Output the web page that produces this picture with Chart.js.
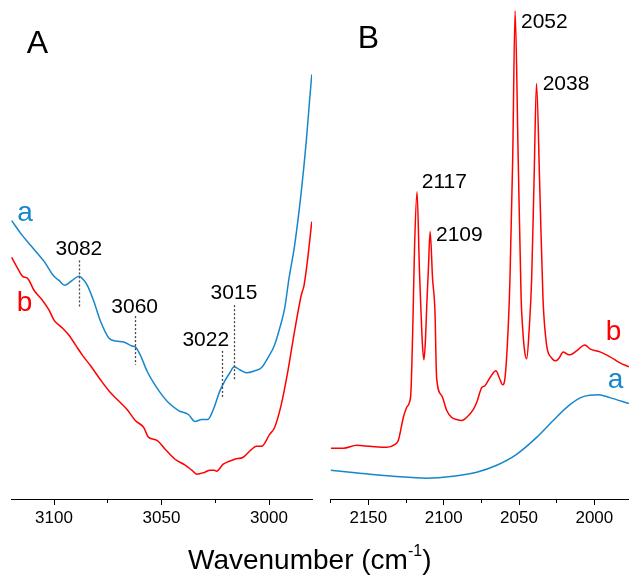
<!DOCTYPE html>
<html>
<head>
<meta charset="utf-8">
<script src="https://cdn.jsdelivr.net/npm/chart.js@4.4.0/dist/chart.umd.min.js"></script>
<style>
    html, body { margin: 0; padding: 0; background: #fff; }
    #wrap { position: relative; width: 629px; height: 577px; overflow: hidden; font-family: "Liberation Sans", Arial, sans-serif; }
    #leftBox { position: absolute; left: 0; top: 0; }
    #rightBox { position: absolute; left: 320px; top: 0; }
    #xTitle { position: absolute; left: 188px; top: 546px; font-size: 28px; line-height: 27px; white-space: nowrap; color: #000; }
    #xTitle sup { font-size: 16px; position: relative; top: -3px; vertical-align: super; line-height: 0; }
</style>
</head>
<body>
<div id="wrap">
    <div id="leftBox"><canvas id="leftChart" width="320" height="577"></canvas></div>
    <div id="rightBox"><canvas id="rightChart" width="309" height="577"></canvas></div>
    <div id="xTitle">Wavenumber (cm<sup>-1</sup>)</div>
</div>
<script>
// Panel A: C-H region (wavenumber, arbitrary absorbance)
const blueLeftWn = [3119.7, 3115.4, 3110.8, 3104.6, 3100.0, 3097.7, 3095.0, 3091.5, 3088.4, 3086.1,
    3084.5, 3081.5, 3078.4, 3074.5, 3071.4, 3067.6, 3063.7, 3062.2, 3059.9, 3056.8,
    3053.7, 3050.6, 3046.8, 3042.1, 3037.5, 3034.4, 3031.3, 3028.5, 3025.9, 3022.8,
    3020.5, 3018.2, 3016.2, 3013.6, 3010.5, 3006.6, 3003.5, 3000.5, 2997.4, 2995.0,
    2992.7, 2990.7, 2988.1, 2985.0, 2982.7, 2981.2, 2980.1];
const blueLeftAbs = [2.80, 2.67, 2.55, 2.39, 2.24, 2.20, 2.15, 2.20, 2.24, 2.20,
    2.15, 1.99, 1.79, 1.62, 1.59, 1.58, 1.54, 1.53, 1.45, 1.29,
    1.17, 1.07, 0.97, 0.89, 0.85, 0.78, 0.80, 0.80, 0.90, 1.09,
    1.19, 1.27, 1.33, 1.30, 1.27, 1.29, 1.32, 1.42, 1.55, 1.72,
    1.92, 2.22, 2.55, 3.09, 3.59, 3.99, 4.27];

const redLeftWn = [3119.7, 3116.9, 3114.6, 3112.3, 3109.3, 3105.4, 3102.3, 3100.0, 3096.1, 3093.1,
    3090.0, 3086.9, 3083.0, 3078.4, 3074.5, 3070.6, 3066.0, 3062.2, 3058.3, 3056.0,
    3052.1, 3048.3, 3043.7, 3039.0, 3035.9, 3033.6, 3029.8, 3027.5, 3025.5, 3024.4,
    3021.3, 3015.9, 3012.0, 3008.1, 3005.8, 3003.5, 2999.7, 2997.4, 2994.3, 2991.2,
    2988.1, 2985.0, 2983.7, 2982.1, 2980.1];
const redLeftAbs = [2.43, 2.32, 2.24, 2.22, 2.10, 2.00, 1.90, 1.80, 1.72, 1.65,
    1.55, 1.45, 1.34, 1.20, 1.09, 1.00, 0.90, 0.79, 0.72, 0.62,
    0.59, 0.50, 0.40, 0.34, 0.29, 0.25, 0.27, 0.29, 0.29, 0.28,
    0.35, 0.40, 0.42, 0.50, 0.53, 0.53, 0.65, 0.72, 0.95, 1.29,
    1.69, 2.05, 2.15, 2.40, 2.79];

// Panel B: C≡N / CO region
const redRightWn = [2175.0, 2166.6, 2157.7, 2148.9, 2137.8, 2132.3, 2130.1, 2126.8, 2124.6, 2122.8,
    2121.7, 2120.4, 2119.4, 2117.7, 2116.1, 2115.1, 2114.1, 2113.1, 2112.1, 2111.1,
    2110.2, 2109.0, 2107.4, 2105.8, 2104.7, 2101.3, 2098.0, 2094.7, 2091.4, 2088.1,
    2084.8, 2080.4, 2078.1, 2074.8, 2072.6, 2069.3, 2065.3, 2063.1, 2060.9, 2059.3,
    2057.2, 2056.0, 2054.2, 2052.6, 2050.6, 2048.6, 2047.6, 2046.3, 2044.9, 2043.2,
    2041.6, 2040.0, 2038.4, 2036.2, 2034.1, 2031.7, 2028.4, 2025.5, 2023.3, 2020.7,
    2018.4, 2016.2, 2011.8, 2006.3, 2002.9, 1996.3, 1989.6, 1983.0, 1977.1];
const redRightAbs = [0.51, 0.51, 0.54, 0.53, 0.52, 0.55, 0.59, 0.82, 0.92, 0.97,
    1.09, 1.80, 2.50, 3.09, 2.30, 1.90, 1.55, 1.40, 1.60, 2.00,
    2.30, 2.69, 2.22, 1.89, 1.22, 1.04, 0.89, 0.82, 0.80, 0.79,
    0.82, 0.90, 0.97, 1.12, 1.14, 1.22, 1.29, 1.22, 1.15, 1.22,
    1.72, 2.22, 3.42, 4.91, 3.47, 2.02, 1.72, 1.49, 1.41, 1.72,
    2.22, 3.22, 4.18, 3.12, 2.02, 1.55, 1.42, 1.39, 1.42, 1.48,
    1.46, 1.45, 1.49, 1.55, 1.51, 1.48, 1.43, 1.37, 1.33];

const blueRightWn = [2175.0, 2155.6, 2133.5, 2111.3, 2093.6, 2078.1, 2064.8, 2051.6, 2038.3, 2027.3,
    2016.2, 2007.4, 1997.4, 1989.7, 1977.1];
const blueRightAbs = [0.29, 0.26, 0.23, 0.21, 0.23, 0.27, 0.34, 0.45, 0.62, 0.79,
    0.95, 1.03, 1.05, 1.02, 0.96];

const BLUE = '#1787cc';
const RED = '#ff0000';
const FONT = '"Liberation Sans", Arial, sans-serif';

function toPoints(xs, ys) {
    return xs.map((x, i) => ({ x: x, y: ys[i] }));
}

// dashed marker lines + text labels, placed in data units
const notesPlugin = {
    id: 'notes',
    afterDatasetsDraw(chart, args, opts) {
        const { ctx, scales: { x, y } } = chart;
        ctx.save();
        ctx.strokeStyle = '#444';
        ctx.lineWidth = 1.3;
        ctx.setLineDash([2, 2]);
        (opts.lines || []).forEach(l => {
            const px = Math.round(x.getPixelForValue(l.x)) + 0.5;
            ctx.beginPath();
            ctx.moveTo(px, y.getPixelForValue(l.y1));
            ctx.lineTo(px, y.getPixelForValue(l.y2));
            ctx.stroke();
        });
        ctx.setLineDash([]);
        ctx.textBaseline = 'alphabetic';
        (opts.texts || []).forEach(t => {
            ctx.font = t.size + 'px ' + FONT;
            ctx.fillStyle = t.color || '#000';
            ctx.textAlign = t.align || 'center';
            ctx.fillText(t.text, x.getPixelForValue(t.x), y.getPixelForValue(t.y));
        });
        ctx.restore();
    }
};

function makeOptions(min, max, padding, notes) {
    return {
        responsive: false,
        animation: false,
        layout: { padding: padding },
        elements: {
            point: { radius: 0 },
            line: { borderWidth: 1.5, cubicInterpolationMode: 'monotone' }
        },
        plugins: {
            legend: { display: false },
            tooltip: { enabled: false },
            notes: notes
        },
        scales: {
            x: {
                type: 'linear',
                min: min,
                max: max,
                reverse: true,
                border: { color: '#000', width: 1 },
                grid: {
                    drawOnChartArea: false,
                    drawTicks: true,
                    tickLength: 6,
                    tickColor: '#000',
                    tickBorderDash: c => (c.tick && c.tick.value % 50 !== 0) ? [3, 20] : []
                },
                ticks: {
                    stepSize: 25,
                    includeBounds: false,
                    autoSkip: false,
                    maxRotation: 0,
                    padding: 3,
                    color: '#000',
                    font: { family: FONT, size: 17 },
                    callback: v => (v % 50 === 0 ? String(v) : '')
                }
            },
            y: { display: false, min: 0, max: 5.02 }
        }
    };
}

new Chart(document.getElementById('leftChart'), {
    type: 'line',
    data: {
        datasets: [
            { data: toPoints(blueLeftWn, blueLeftAbs), borderColor: BLUE },
            { data: toPoints(redLeftWn, redLeftAbs), borderColor: RED }
        ]
    },
    options: makeOptions(2980, 3120, { left: 11, right: 8, top: 0, bottom: 45.6 }, {
        texts: [
            { text: 'A', x: 3107.7, y: 4.49, size: 32 },
            { text: 'a', x: 3113.5, y: 2.80, size: 28, color: BLUE },
            { text: 'b', x: 3113.7, y: 1.89, size: 28, color: RED },
            { text: '3082', x: 3088.4, y: 2.45, size: 21 },
            { text: '3060', x: 3062.5, y: 1.87, size: 21 },
            { text: '3022', x: 3029.4, y: 1.54, size: 21 },
            { text: '3015', x: 3016.3, y: 2.01, size: 21 }
        ],
        lines: [
            { x: 3088.4, y1: 2.40, y2: 1.93 },
            { x: 3062.5, y1: 1.84, y2: 1.35 },
            { x: 3022.0, y1: 1.49, y2: 1.02 },
            { x: 3016.5, y1: 1.95, y2: 1.20 }
        ]
    }),
    plugins: [notesPlugin]
});

new Chart(document.getElementById('rightChart'), {
    type: 'line',
    data: {
        datasets: [
            { data: toPoints(blueRightWn, blueRightAbs), borderColor: BLUE },
            { data: toPoints(redRightWn, redRightAbs), borderColor: RED }
        ]
    },
    options: makeOptions(1977, 2175, { left: 10.7, right: 0, top: 0, bottom: 45.6 }, {
        texts: [
            { text: 'B', x: 2149.9, y: 4.54, size: 32 },
            { text: '2117', x: 2114.6, y: 3.13, size: 21, align: 'left' },
            { text: '2109', x: 2105.1, y: 2.60, size: 21, align: 'left' },
            { text: '2052', x: 2048.7, y: 4.74, size: 21, align: 'left' },
            { text: '2038', x: 2034.3, y: 4.11, size: 21, align: 'left' },
            { text: 'b', x: 1987.3, y: 1.60, size: 28, color: RED },
            { text: 'a', x: 1986.0, y: 1.12, size: 28, color: BLUE }
        ]
    }),
    plugins: [notesPlugin]
});
</script>
</body>
</html>
